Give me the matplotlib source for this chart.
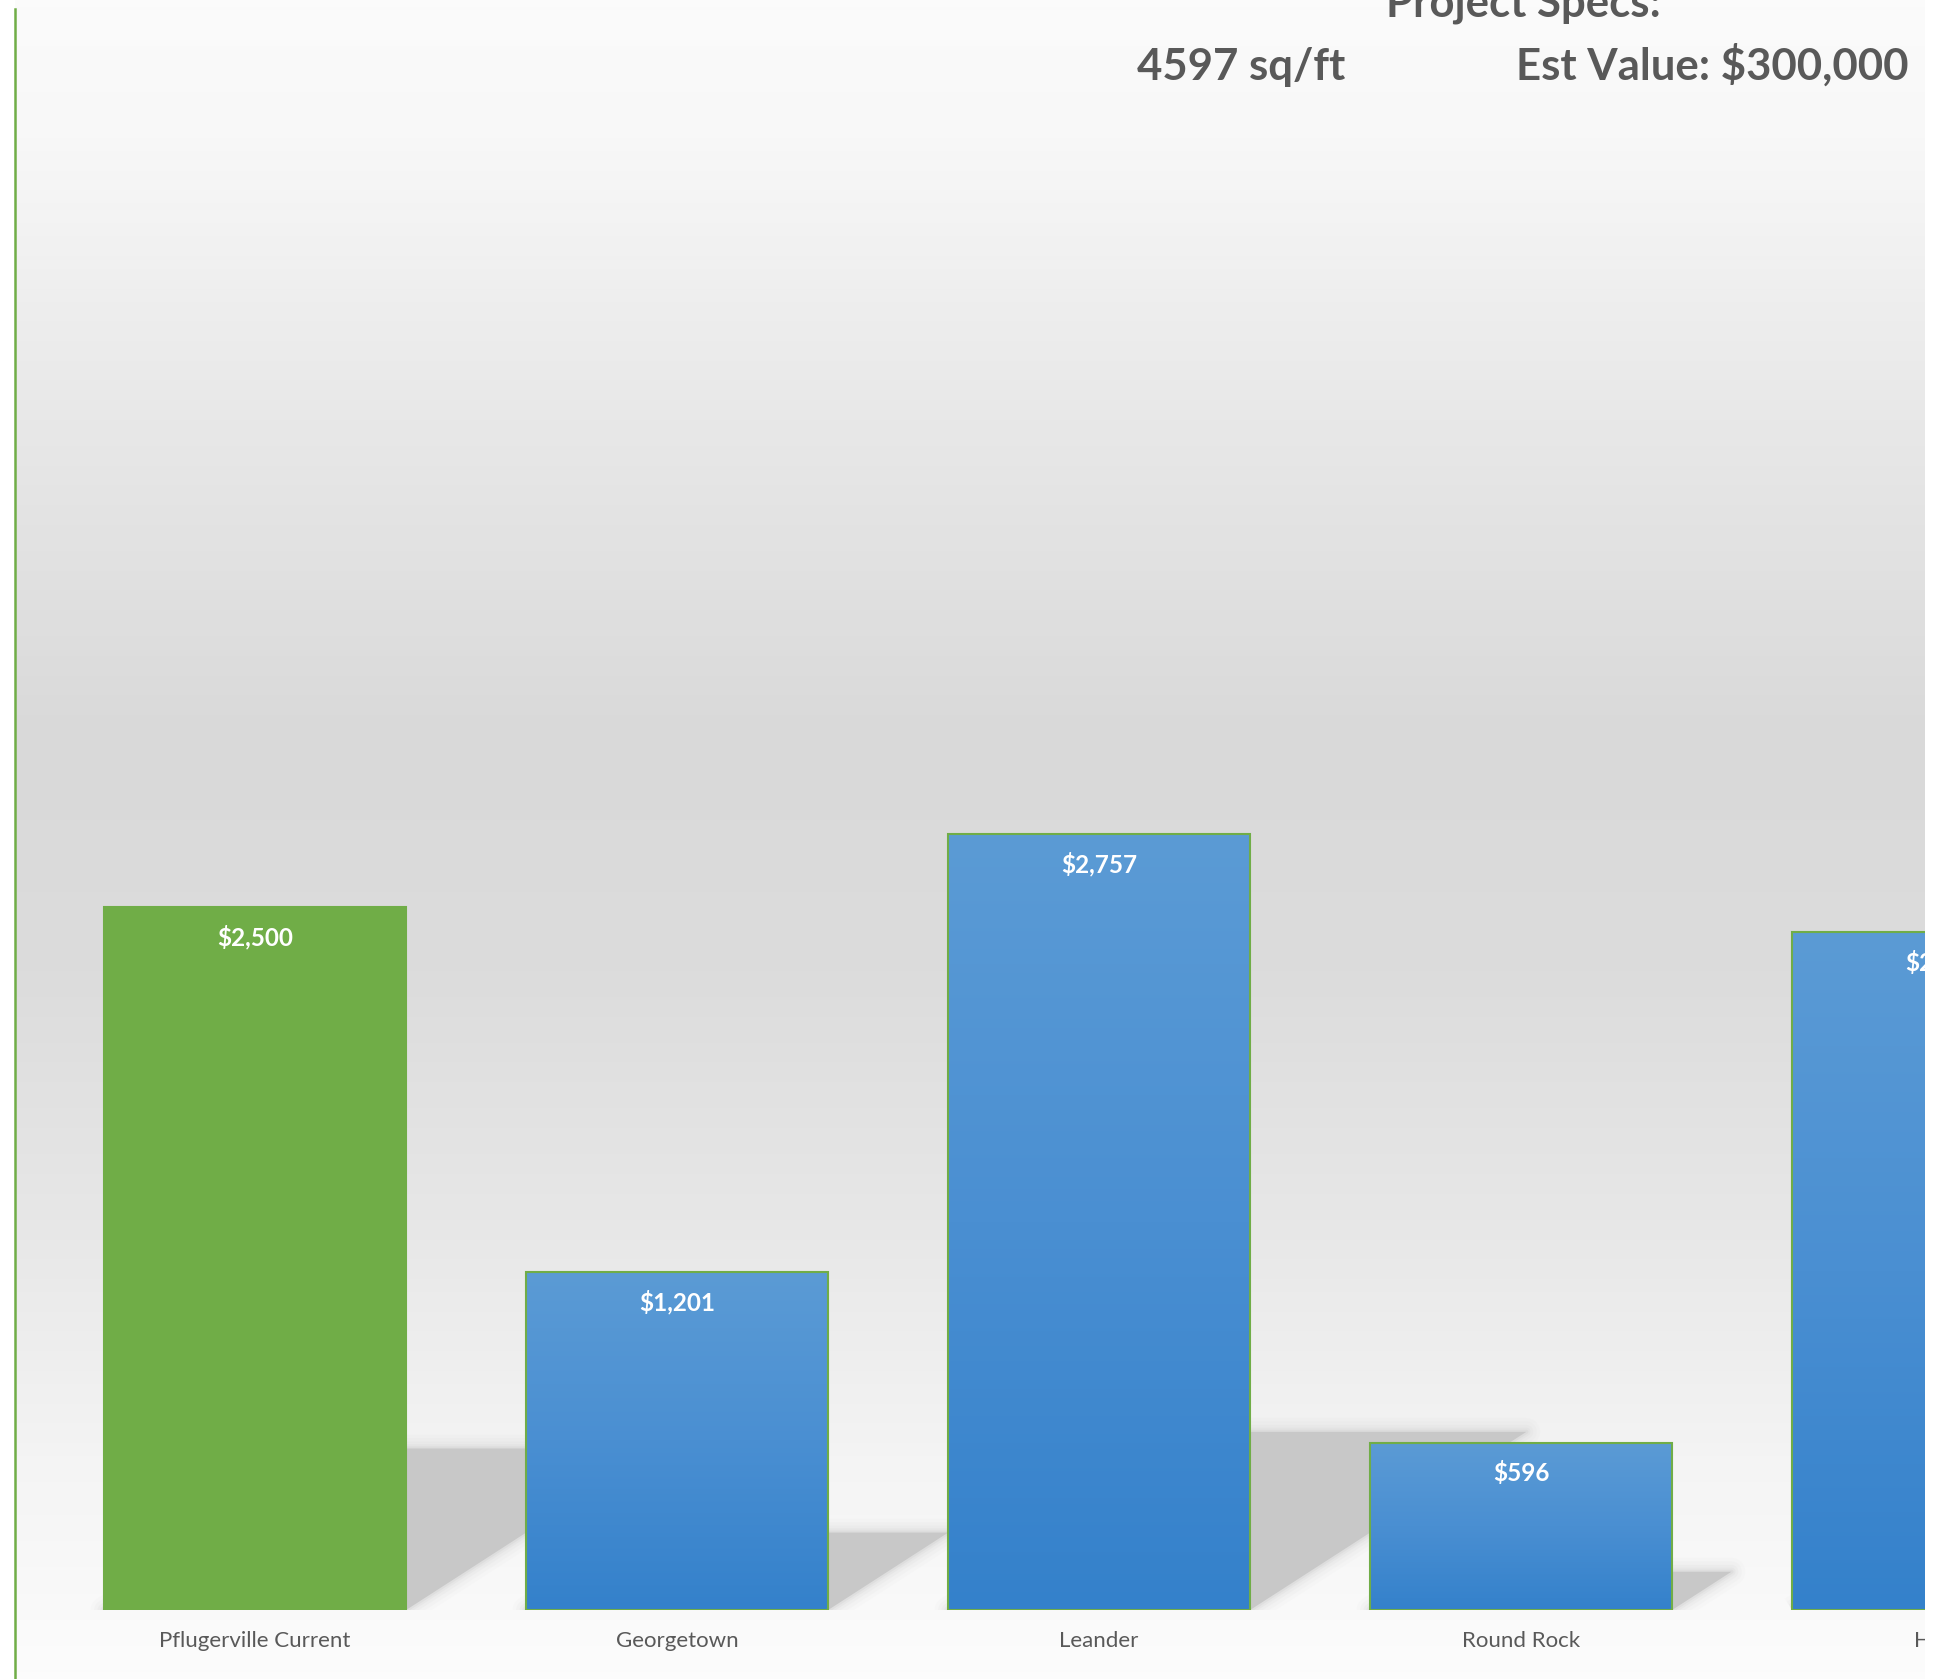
import numpy as np
import matplotlib.pyplot as plt
from matplotlib.colors import LinearSegmentedColormap
from matplotlib.patches import Polygon, Rectangle
from matplotlib.lines import Line2D

cities = ['Pflugerville Current', 'Georgetown', 'Leander', 'Round Rock', 'Hutto']
costs = [2500, 1201, 2757, 596, 2409]
is_current = [True, False, False, False, False]

W, H = 1943, 1679
plt.rcParams['font.family'] = ['Lato', 'DejaVu Sans']

fig = plt.figure(figsize=(W / 100, H / 100), dpi=100)
fig.patch.set_facecolor('white')

# chart area background: light at top and bottom, grey band in the middle
bg = fig.add_axes([15 / W, 0, (1925 - 15) / W, 1], zorder=0)
bg_cmap = LinearSegmentedColormap.from_list('bg', [
    (0.0, '#fbfbfb'), (0.08, '#f8f8f8'), (0.2, '#ececec'), (0.44, '#d9d9d9'),
    (0.58, '#dcdcdc'), (0.74, '#e8e8e8'), (0.87, '#f4f4f4'), (1.0, '#fcfcfc')])
bg.imshow(np.linspace(0, 1, 512).reshape(-1, 1), cmap=bg_cmap, aspect='auto',
          extent=[0, 1, 0, 1])
bg.set_axis_off()

base = (H - 1610.3) / H
ax = fig.add_axes([0, base, 1, 1 - base], zorder=1)
ax.set_facecolor('none')

bar_w = 0.714
blue = LinearSegmentedColormap.from_list('blue', ['#3481cb', '#4a8fd2', '#5b9bd5'])
green = '#70ad47'

for i, v in enumerate(costs):
    left, right = i - bar_w / 2, i + bar_w / 2

    # cast shadow on the floor, sheared to the right, with soft edges
    sh = 0.23 * v
    dx = 2.378e-4 * v
    pts = [(left, 0), (right, 0), (right + dx, sh), (left + dx, sh)]
    for lw, a in [(20, 0.05), (15, 0.07), (10, 0.1), (6, 0.15), (3, 0.25)]:
        ax.add_patch(Polygon(pts, closed=True, fill=False, edgecolor='#c8c8c8',
                             lw=lw, alpha=a, joinstyle='round', zorder=1.4))
    ax.add_patch(Polygon(pts, closed=True, facecolor='#c8c8c8', edgecolor='none', zorder=1.5))

    if is_current[i]:
        ax.add_patch(Rectangle((left, 0), bar_w, v, facecolor=green, edgecolor='none', zorder=2))
    else:
        ax.imshow(np.linspace(0, 1, 256).reshape(-1, 1), cmap=blue, aspect='auto',
                  extent=[left, right, 0, v], origin='lower', zorder=2)
    ax.add_patch(Rectangle((left, 0), bar_w, v, fill=False, edgecolor=green, lw=1.5, zorder=3))

    ax.annotate(f'${v:,}', xy=(i, v), xytext=(0, -21.6), textcoords='offset points',
                ha='center', va='center', color='white', fontweight='bold', fontsize=17.5,
                zorder=4)

ax.set_xlim(-0.6043, 4.0)
ax.set_ylim(0, 5721.6)
ax.set_xticks(range(len(cities)), cities)
ax.tick_params(axis='x', length=0, pad=15, labelsize=16, labelcolor='#595959')
ax.set_yticks([])
for s in ax.spines.values():
    s.set_visible(False)

# title block
fig.text(1523 / W, 1 - 17 / H, 'Project Specs:', ha='center', va='baseline',
         fontsize=31.5, fontweight='bold', color='#595959')
fig.text(1137 / W, 1 - 80 / H, '4597 sq/ft', ha='left', va='baseline',
         fontsize=31.5, fontweight='bold', color='#595959')
fig.text(1908 / W, 1 - 80 / H, 'Est Value: $300,000', ha='right', va='baseline',
         fontsize=31.5, fontweight='bold', color='#595959')

# chart border on the left, chart cut off on the right
fig.add_artist(Line2D([14.5 / W, 14.5 / W], [0, 1 - 9 / H], transform=fig.transFigure,
                      color=green, lw=1.8, zorder=10))
fig.add_artist(Rectangle((1925 / W, 0), 18 / W, 1, transform=fig.transFigure,
                         facecolor='white', edgecolor='none', zorder=10))

fig.savefig('out.png', dpi=100)
